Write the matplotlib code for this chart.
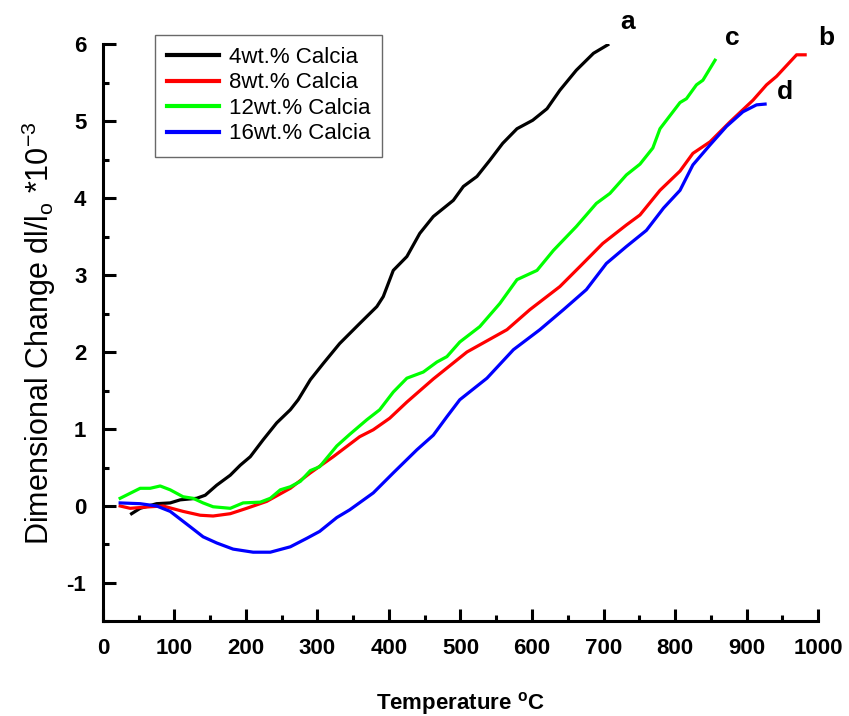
import matplotlib
matplotlib.use('Agg')
import matplotlib.pyplot as plt
from matplotlib.ticker import MultipleLocator

plt.rcParams['font.family'] = ['Liberation Sans', 'DejaVu Sans']
plt.rcParams['mathtext.fontset'] = 'custom'
plt.rcParams['mathtext.rm'] = 'Liberation Sans'
plt.rcParams['mathtext.bf'] = 'Liberation Sans:bold'
plt.rcParams['axes.unicode_minus'] = False

# Data
x_4 = [40, 52, 75, 94, 108, 131, 143, 159, 178, 192, 206, 224, 243, 262, 273, 290, 308, 331,
       359, 383, 392, 406, 425, 443, 462, 490, 504, 523, 541, 559, 579, 601, 621, 639, 662, 686, 706]
y_4 = [-0.10, -0.03, 0.03, 0.04, 0.08, 0.10, 0.14, 0.27, 0.40, 0.53, 0.64, 0.86, 1.08, 1.25, 1.38,
       1.64, 1.85, 2.11, 2.37, 2.59, 2.72, 3.06, 3.24, 3.54, 3.76, 3.97, 4.15, 4.28, 4.49, 4.71,
       4.90, 5.01, 5.16, 5.40, 5.66, 5.88, 5.99]

x_8 = [24, 38, 66, 84, 112, 136, 154, 178, 201, 229, 262, 290, 322, 359, 378, 401, 425, 462, 509,
       565, 597, 639, 667, 699, 732, 751, 779, 807, 825, 849, 877, 909, 928, 942, 970, 982]
y_8 = [0.0, -0.03, -0.01, 0.0, -0.07, -0.12, -0.13, -0.10, -0.03, 0.06, 0.23, 0.43, 0.64, 0.90,
       0.99, 1.14, 1.35, 1.65, 2.0, 2.29, 2.55, 2.85, 3.11, 3.41, 3.65, 3.78, 4.10, 4.35, 4.58,
       4.73, 4.99, 5.27, 5.47, 5.58, 5.86, 5.86]

x_12 = [24, 52, 66, 80, 94, 112, 126, 140, 154, 178, 196, 220, 234, 248, 262, 276, 290, 303, 327,
        345, 369, 387, 406, 425, 448, 467, 481, 499, 527, 555, 579, 607, 630, 662, 690, 709, 732,
        751, 769, 779, 807, 816, 830, 839, 856]
y_12 = [0.10, 0.23, 0.23, 0.26, 0.21, 0.12, 0.10, 0.04, -0.01, -0.03, 0.04, 0.05, 0.10, 0.21, 0.25,
        0.32, 0.46, 0.51, 0.78, 0.93, 1.12, 1.25, 1.48, 1.66, 1.74, 1.87, 1.94, 2.13, 2.33, 2.63,
        2.94, 3.06, 3.32, 3.63, 3.93, 4.06, 4.30, 4.44, 4.65, 4.90, 5.24, 5.29, 5.47, 5.53, 5.79]

x_16 = [24, 52, 75, 94, 122, 140, 159, 182, 210, 234, 262, 285, 303, 327, 345, 378, 406, 439, 462,
        481, 499, 537, 574, 611, 644, 676, 704, 732, 760, 784, 807, 825, 849, 872, 895, 914, 926]
y_16 = [0.04, 0.03, 0.0, -0.07, -0.27, -0.40, -0.48, -0.56, -0.60, -0.60, -0.53, -0.42, -0.33,
        -0.15, -0.05, 0.17, 0.43, 0.73, 0.92, 1.16, 1.38, 1.66, 2.03, 2.29, 2.55, 2.81, 3.15, 3.37,
        3.58, 3.87, 4.10, 4.43, 4.69, 4.93, 5.12, 5.21, 5.22]

labels = ['4wt.% Calcia', '8wt.% Calcia', '12wt.% Calcia', '16wt.% Calcia']
colors = ['#000000', '#ff0000', '#00ff00', '#0000ff']
letters = ['a', 'b', 'c', 'd']
letter_pos = [(734, 6.29), (1011, 6.08), (880, 6.08), (954, 5.38)]

fig = plt.figure(figsize=(8.49, 7.16), dpi=100)
ax = fig.add_axes([0.1213, 0.132, 0.8422, 0.8065])

series = [(x_4, y_4), (x_8, y_8), (x_12, y_12), (x_16, y_16)]
for (xs, ys), lab, col in zip(series, labels, colors):
    ax.plot(xs, ys, color=col, lw=2.3, label=lab)

for let, (lx, ly) in zip(letters, letter_pos):
    ax.text(lx, ly, let, fontsize=19, fontweight='bold', ha='center', va='center', clip_on=False)

ax.set_xlim(0, 1000)
ax.set_ylim(-1.5, 6)
ax.xaxis.set_major_locator(MultipleLocator(100))
ax.xaxis.set_minor_locator(MultipleLocator(50))
ax.yaxis.set_major_locator(MultipleLocator(1))
ax.yaxis.set_minor_locator(MultipleLocator(0.5))

ax.spines['top'].set_visible(False)
ax.spines['right'].set_visible(False)
for s in ['left', 'bottom']:
    ax.spines[s].set_linewidth(2.2)

ax.tick_params(which='major', direction='in', length=9, width=2.2, labelsize=16, pad=12)
ax.tick_params(which='minor', direction='in', length=4.5, width=2.2)
ax.set_yticks([-1, 0, 1, 2, 3, 4, 5, 6])
for t in ax.get_xticklabels() + ax.get_yticklabels():
    t.set_fontweight('bold')

ax.set_xlabel(r'Temperature $^{\mathbf{o}}$C', fontsize=16, fontweight='bold', labelpad=22)
ax.set_ylabel(r'Dimensional Change dl/l$_{\mathrm{o}}$ *10$^{-3}$', fontsize=22, labelpad=6)

leg = ax.legend(loc='upper left', bbox_to_anchor=(0.073, 1.016), borderaxespad=0,
                fontsize=16, frameon=True, fancybox=False, edgecolor='#444444',
                handlelength=2.3, borderpad=0.55, labelspacing=0.2, handletextpad=0.45)
leg.get_frame().set_linewidth(1.0)
for line in leg.get_lines():
    line.set_linewidth(3)

fig.savefig('out.png', dpi=100)
plt.close(fig)
